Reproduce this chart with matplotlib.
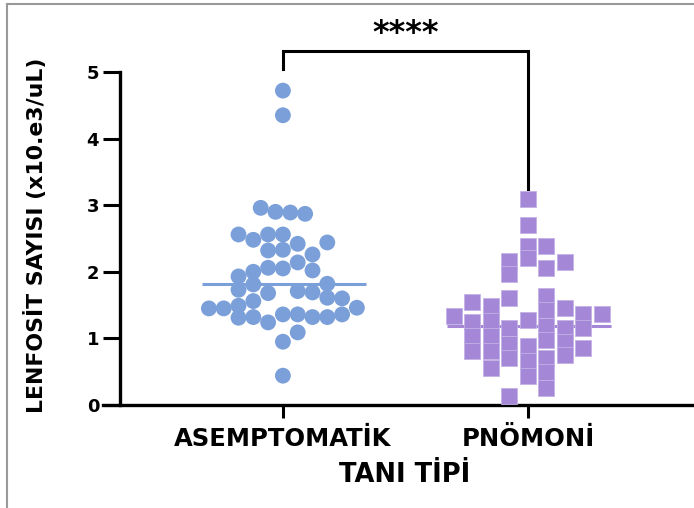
import numpy as np
import matplotlib.pyplot as plt
from matplotlib.lines import Line2D

plt.rcParams['font.family'] = ['DejaVu Sans']
plt.rcParams['font.weight'] = 'bold'

categories = ['ASEMPTOMATİK', 'PNÖMONİ']
y_label = 'LENFOSİT SAYISI (x10.e3/uL)'
x_label = 'TANI TİPİ'
y_ticks = [0, 1, 2, 3, 4, 5]
sig_text = '****'

# lymphocyte counts
asym_values = [4.72, 4.35, 2.96, 2.90, 2.89, 2.87, 2.56, 2.48, 2.56, 2.56,
               2.42, 2.44, 2.32, 2.33, 2.26, 2.14, 2.06, 2.05, 2.00, 1.93,
               2.02, 1.73, 1.81, 1.68, 1.71, 1.69, 1.82, 1.61, 1.60, 1.45,
               1.45, 1.49, 1.56, 1.46, 1.31, 1.32, 1.24, 1.36, 1.36, 1.32,
               1.32, 1.36, 0.95, 1.09, 0.44]
# swarm column of each point (in marker widths)
asym_cols = [0, 0, -1.5, -0.5, 0.5, 1.5, -3, -2, -1, 0,
             1, 3, -1, 0, 2, 1, -1, 0, -2, -3,
             2, -3, -2, -1, 1, 2, 3, 3, 4, -5,
             -4, -3, -2, 5, -3, -2, -1, 0, 1, 2,
             3, 4, 0, 1, 0]

pneu_values = [3.09, 2.70, 2.38, 2.20, 1.27, 0.88, 0.66, 0.43,
               2.38, 2.06, 1.63, 1.43, 1.18, 0.98, 0.70, 0.49, 0.25,
               2.16, 1.96, 1.61, 1.16, 0.92, 0.70, 0.13,
               2.14, 1.45, 1.16, 0.95, 0.75,
               1.36, 1.16, 0.85,
               1.37,
               1.48, 1.26, 1.03, 0.81, 0.56,
               1.54, 1.25, 1.04, 0.81,
               1.34]
pneu_cols = [0] * 8 + [1] * 9 + [-1] * 7 + [2] * 5 + [3] * 3 + [4] + \
            [-2] * 5 + [-3] * 4 + [-4]

blue = '#7B9FD9'
purple = '#A487D6'

fig = plt.figure(figsize=(6.94, 5.08), dpi=100)
ax = fig.add_axes([0.1729, 0.2028, 0.8271, 0.6555])

# medians
for i, (vals, c) in enumerate([(asym_values, blue), (pneu_values, purple)]):
    m = np.median(vals)
    ax.plot([i - 0.33, i + 0.34], [m, m], color=c, lw=2.2, zorder=2,
            solid_capstyle='butt')

ax.scatter(0 + np.array(asym_cols) * 0.0604, asym_values, s=130, marker='o',
           color=blue, edgecolor='none', zorder=3)
ax.scatter(1 + np.array(pneu_cols) * 0.0755, pneu_values, s=120, marker='s',
           color=purple, edgecolor='#C4B2E6', linewidth=0.6, zorder=3)

ax.set_xlim(-0.665, 1.678)
ax.set_ylim(0, 5)
ax.set_yticks(y_ticks)
ax.set_xticks([0, 1])
ax.set_xticklabels(categories, fontsize=17.5, fontweight='bold')
ax.tick_params(axis='y', length=12, width=2.2, labelsize=13, pad=3)
ax.tick_params(axis='x', length=9, width=2.2, pad=7)
for t in ax.get_yticklabels():
    t.set_fontweight('bold')

for s in ['top', 'right']:
    ax.spines[s].set_visible(False)
for s in ['left', 'bottom']:
    ax.spines[s].set_linewidth(2.4)
ax.spines['bottom'].set_bounds(-0.735, 1.678)

ax.set_ylabel(y_label, fontsize=15.8, fontweight='bold')
ax.yaxis.label.set_va('center')
ax.yaxis.set_label_coords(-0.148, 0.51)
ax.set_xlabel(x_label, fontsize=18.5, fontweight='bold')
ax.xaxis.label.set_va('center')
ax.xaxis.set_label_coords(0.495, -0.21)

# significance bracket
ax.plot([0, 0, 1, 1], [5.05, 5.32, 5.32, 3.24], color='black', lw=2.2,
        clip_on=False, solid_joinstyle='miter')
ax.text(0.5, 5.58, sig_text, ha='center', va='center', fontsize=23,
        fontweight='bold', clip_on=False)

# grey frame of the screenshot
fig.add_artist(Line2D([0.0101, 0.0101], [0, 0.992], color='#999999', lw=1.5))
fig.add_artist(Line2D([0.0101, 1], [0.992, 0.992], color='#999999', lw=1.5))

fig.savefig('out.png', dpi=100)
